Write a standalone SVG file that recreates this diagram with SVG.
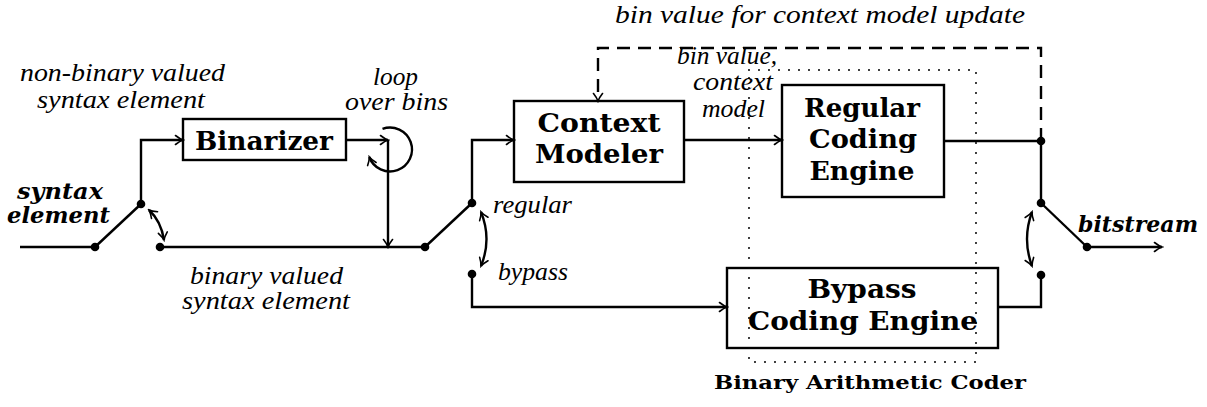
<svg xmlns="http://www.w3.org/2000/svg" width="1207" height="407" viewBox="0 0 1207 407">
  <style>
    .ln { fill: none; stroke: #000; stroke-width: 2.4; }
    .dash { stroke-dasharray: 13 8; }
    .dot { fill: #000; }
    .box { fill: #fff; stroke: #000; stroke-width: 2.4; }
    .frame { fill: none; stroke: #000; stroke-width: 2; stroke-dasharray: 0 10; stroke-linecap: round; }
    .it { font-family: "Liberation Serif", serif; font-style: italic; font-size: 25px; fill: #000; }
    .bi { font-family: "DejaVu Serif", serif; font-style: italic; font-weight: bold; font-size: 22px; fill: #000; }
    .bx { font-family: "DejaVu Serif", serif; font-weight: bold; font-size: 26px; fill: #000; text-anchor: middle; }
    .cap { font-family: "DejaVu Serif", serif; font-weight: bold; font-size: 18px; fill: #000; text-anchor: middle; }
  </style>
  <defs>
    <marker id="to" viewBox="-9 -6 11 12" refX="0" refY="0" markerWidth="11" markerHeight="12" markerUnits="userSpaceOnUse" orient="auto-start-reverse">
      <path d="M-7.5,-4.5 Q-3,-1 0,0 Q-3,1 -7.5,4.5" fill="none" stroke="#000" stroke-width="1.6" stroke-linecap="round" stroke-dasharray="none"/>
    </marker>
  </defs>

  <!-- processing blocks -->
  <g id="binarizer">
    <rect class="box" x="183" y="119" width="163" height="41"/>
    <text class="bx" x="264" y="150" textLength="138" lengthAdjust="spacingAndGlyphs">Binarizer</text>
  </g>
  <g id="context-modeler">
    <rect class="box" x="514" y="101" width="170" height="81"/>
    <text class="bx" x="599" y="132" textLength="123" lengthAdjust="spacingAndGlyphs">Context</text>
    <text class="bx" x="599" y="163" textLength="128" lengthAdjust="spacingAndGlyphs">Modeler</text>
  </g>
  <g id="regular-engine">
    <rect class="box" x="782" y="85" width="162" height="112"/>
    <text class="bx" x="862" y="117" textLength="116" lengthAdjust="spacingAndGlyphs">Regular</text>
    <text class="bx" x="863" y="148" textLength="108" lengthAdjust="spacingAndGlyphs">Coding</text>
    <text class="bx" x="862" y="180" textLength="105" lengthAdjust="spacingAndGlyphs">Engine</text>
  </g>
  <g id="bypass-engine">
    <rect class="box" x="727" y="268" width="271" height="80"/>
    <text class="bx" x="862" y="298" textLength="109" lengthAdjust="spacingAndGlyphs">Bypass</text>
    <text class="bx" x="863" y="330" textLength="230" lengthAdjust="spacingAndGlyphs">Coding Engine</text>
  </g>

  <!-- arithmetic coder enclosure -->
  <g id="arithmetic-coder">
    <rect class="frame" x="749" y="70" width="227" height="292"/>
    <text class="cap" x="870" y="389" textLength="312" lengthAdjust="spacingAndGlyphs">Binary Arithmetic Coder</text>
  </g>

  <!-- connectors and switches -->
  <g id="connectors">
    <path class="ln" d="M20 247 H95"/>
    <path class="ln" d="M95 247 L141 204"/>
    <path class="ln" d="M141 204 V140 H183" marker-end="url(#to)"/>
    <path class="ln" d="M346 140 H388" marker-end="url(#to)"/>
    <path class="ln" d="M388 140 V247" marker-end="url(#to)"/>
    <path class="ln" d="M160 247 H425"/>
    <path class="ln" d="M382.5 128.8 A22 22 0 1 1 369.3 157" marker-end="url(#to)"/>
    <path class="ln" stroke-width="1.8" d="M149 210 Q161 221 164 240" marker-start="url(#to)" marker-end="url(#to)"/>

    <path class="ln" d="M425 247 L472 203"/>
    <path class="ln" d="M472 203 V140 H514" marker-end="url(#to)"/>
    <path class="ln" d="M472 274 V307 H727" marker-end="url(#to)"/>
    <path class="ln" stroke-width="1.8" d="M481 212 Q492 239 481 266" marker-start="url(#to)" marker-end="url(#to)"/>

    <path class="ln" d="M684 140 H782" marker-end="url(#to)"/>
    <path class="ln" d="M944 141 H1041 V203"/>
    <path class="ln dash" d="M1041 141 V48 H598 V101" marker-end="url(#to)"/>
    <path class="ln" d="M1041 203 L1087 247"/>
    <path class="ln" d="M1087 247 H1162" marker-end="url(#to)"/>
    <path class="ln" d="M998 307 H1041 V275"/>
    <path class="ln" stroke-width="1.8" d="M1032 212 Q1022 239 1032 266" marker-start="url(#to)" marker-end="url(#to)"/>

    <circle class="dot" cx="95" cy="247" r="4.3"/>
    <circle class="dot" cx="141" cy="204" r="4.3"/>
    <circle class="dot" cx="160" cy="247" r="4.3"/>
    <circle class="dot" cx="425" cy="247" r="4.3"/>
    <circle class="dot" cx="472" cy="203" r="4.3"/>
    <circle class="dot" cx="472" cy="274" r="4.3"/>
    <circle class="dot" cx="1041" cy="141" r="4.3"/>
    <circle class="dot" cx="1041" cy="203" r="4.3"/>
    <circle class="dot" cx="1041" cy="275" r="4.3"/>
    <circle class="dot" cx="1087" cy="247" r="4.3"/>
  </g>

  <!-- labels -->
  <g id="labels">
    <text class="bi" x="17" y="199" textLength="86" lengthAdjust="spacingAndGlyphs">syntax</text>
    <text class="bi" x="7" y="223" textLength="103" lengthAdjust="spacingAndGlyphs">element</text>
    <text class="it" x="20" y="81" textLength="205" lengthAdjust="spacingAndGlyphs">non-binary valued</text>
    <text class="it" x="37" y="108" textLength="168" lengthAdjust="spacingAndGlyphs">syntax element</text>
    <text class="it" x="373" y="85" textLength="45" lengthAdjust="spacingAndGlyphs">loop</text>
    <text class="it" x="345" y="110" textLength="103" lengthAdjust="spacingAndGlyphs">over bins</text>
    <text class="it" x="190" y="284" textLength="153" lengthAdjust="spacingAndGlyphs">binary valued</text>
    <text class="it" x="182" y="309" textLength="168" lengthAdjust="spacingAndGlyphs">syntax element</text>
    <text class="it" x="493" y="213" textLength="79" lengthAdjust="spacingAndGlyphs">regular</text>
    <text class="it" x="498" y="280" textLength="70" lengthAdjust="spacingAndGlyphs">bypass</text>
    <text class="it" x="615" y="23" textLength="410" lengthAdjust="spacingAndGlyphs">bin value for context model update</text>
    <text class="it" x="677" y="64" textLength="100" lengthAdjust="spacingAndGlyphs">bin value,</text>
    <text class="it" x="693" y="90" textLength="80" lengthAdjust="spacingAndGlyphs">context</text>
    <text class="it" x="702" y="117" textLength="63" lengthAdjust="spacingAndGlyphs">model</text>
    <text class="bi" x="1078" y="232" textLength="120" lengthAdjust="spacingAndGlyphs">bitstream</text>
  </g>
</svg>
